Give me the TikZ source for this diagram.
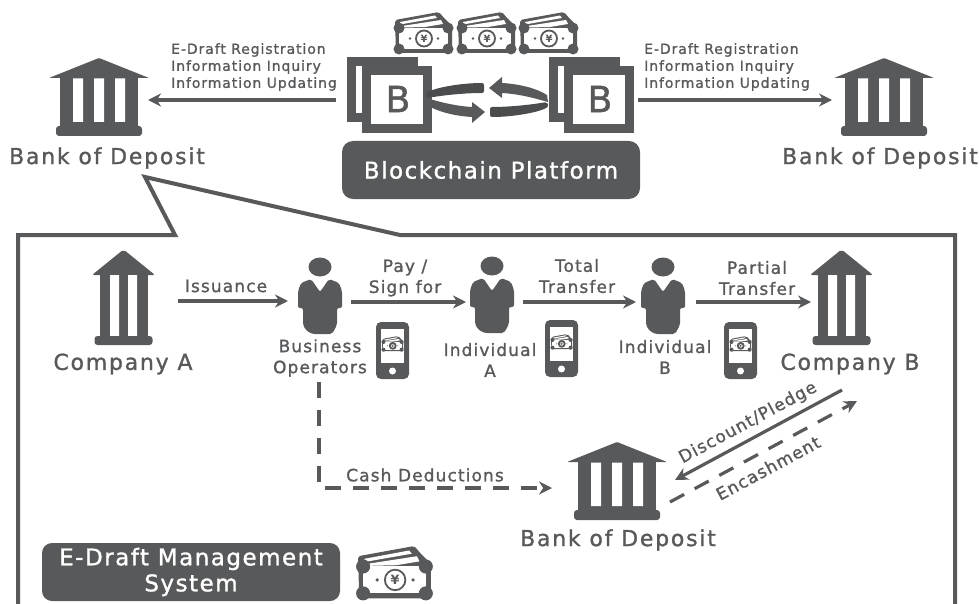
\documentclass[tikz,border=0pt]{standalone}
\usepackage{fontspec}
\setmainfont{DejaVu Sans}
\newfontfamily\wide[FakeBold=1.2,LetterSpace=6.5]{DejaVu Sans}
\newfontfamily\wider[FakeBold=1.2,LetterSpace=8]{DejaVu Sans}
\usetikzlibrary{arrows.meta}
\definecolor{dk}{HTML}{58595B}
\tikzset{
 x=1pt,y=-1pt,
 every node/.style={text=dk,inner sep=0pt,align=center},
 lbl/.style={font=\wide\fontsize{14}{17}\selectfont,align=left},
 mid/.style={font=\wide\fontsize{17}{21}\selectfont},
 big/.style={font=\wider\fontsize{22}{26}\selectfont},
 arr/.style={draw=dk,line width=3.2pt,-{Stealth[length=13pt,width=13pt]}},
 dasharr/.style={arr,dash pattern=on 16pt off 12pt},
 whitetxt/.style={text=white,font=\wide\fontsize{23}{26}\selectfont},
 bank/.pic={
  \fill[dk,rounded corners=1pt] (0,0)--(-50,20)--(50,20)--cycle;
  \fill[dk] (-39,20) rectangle (39,72);
  \fill[white] (-26,20.5) rectangle (-16,64) (-5,20.5) rectangle (5,64) (16,20.5) rectangle (26,64);
  \fill[dk,rounded corners=3pt] (-43,68) rectangle (43,78);
 },
 bankii/.pic={
  \fill[dk,rounded corners=2pt] (0,-0.5)--(-31.5,25)--(31.5,25)--cycle;
  \fill[dk] (-24,24) rectangle (24,88);
  \fill[white] (-13.5,25) rectangle (-4.5,86) (4.5,25) rectangle (13.5,86);
  \fill[dk,rounded corners=3pt] (-29,86) rectangle (29,95);
 },
 person/.pic={
  \fill[dk] (0,0) ellipse (11.5 and 9.5);
  \fill[dk,rounded corners=2pt] (0,25)--(-9,12)--(-19,16)--(-22,24)--(-22,41)--(-17,41)--(-17,58)
    to[rounded corners=7pt] (-12,67)--(12,67)--(17,58)--(17,41)--(22,41)--(22,24)--(19,16)--(9,12)--cycle;
 },
 money/.pic={
  \fill[dk,rounded corners=2pt] (0,8)--(44,0)--(49,6)--(57,14)--(57,41)--(1,41)--cycle;
  \fill[white] (5,10)--(40,3.5)--(42,6)--(5,12.5)--cycle (7,14)--(46,8)--(48,12)--(30,15)--(8,15.5)--cycle;
  \fill[white] (4,16) rectangle (53,37);
  \fill[dk] (4,16) circle (5.5) (53,16) circle (5.5) (4,37) circle (5.5) (53,37) circle (5.5);
  \draw[dk,line width=1.8pt,fill=white] (29,26.5) circle (8);
  \fill[dk] (15,26.5) circle (1.4) (43,26.5) circle (1.4);
  \node[transform shape,font=\fontsize{10}{10}\selectfont\bfseries] at (29,26.5) {¥};
 },
 phone/.pic={
  \fill[dk,rounded corners=5pt] (0,0) rectangle (33,57);
  \fill[white] (5,7) rectangle (28,41);
  \fill[white] (16.5,49) circle (3.5);
  \pic[scale=0.37] at (6,14) {money};
 },
 bbox/.pic={
  \draw[dk,line width=9pt,fill=white,line join=miter] (4.5,4.5) rectangle (66.5,60.5);
  \draw[dk,line width=9pt,fill=white,line join=miter] (19,14) rectangle (80.5,71.5);
  \node[font=\fontsize{36}{36}\selectfont\wide] at (51,42) {B};
 },
 swoop/.pic={
  \fill[dk!85!black,rounded corners=2pt] (425,94) .. controls (433,88) and (460,83) .. (484,83) -- (484,93) .. controls (465,93) and (445,95) .. (427,98) -- cycle;
  \fill[dk] (426,98) .. controls (440,102) and (455,106) .. (472,107) -- (472,102) -- (485,112) -- (472,123) -- (472,117) .. controls (455,116) and (438,112) .. (427,105) -- cycle;
 }
}
\begin{document}
\begin{tikzpicture}
\useasboundingbox (0,0) rectangle (979,604);
% callout
\draw[dk,line width=4pt,line join=miter] (18,604)--(18,235)--(175,235)--(145,177)--(400,235)--(955,235)--(955,604);
% top row
\pic at (99,58) {bank};
\pic at (884,58) {bank};
\node[big] (bankL) at (107,158) {Bank of Deposit};
\node[big] (bankR) at (880,158) {Bank of Deposit};
\pic at (395,12) {money};
\pic at (458,12) {money};
\pic at (520,12) {money};
\pic at (347,57) {bbox};
\pic at (549,57) {bbox};
\pic {swoop};
\pic[rotate around={180:(487,100)}] {swoop};
\node[fill=dk,rounded corners=11pt,minimum width=298pt,minimum height=58pt,whitetxt] (plat) at (491,170) {Blockchain Platform};
\coordinate (tl0) at (336,100); \coordinate (tl1) at (148,100);
\coordinate (tr0) at (638,100); \coordinate (tr1) at (832,100);
\draw[arr] (tl0)--(tl1);
\draw[arr] (tr0)--(tr1);
\node[lbl,anchor=west] (infoL) at (171,67) {E-Draft Registration\\Information Inquiry\\Information Updating};
\node[lbl,anchor=west] (infoR) at (644,67) {E-Draft Registration\\Information Inquiry\\Information Updating};
% middle row
\pic at (123.5,250) {bankii};
\pic at (841.5,250) {bankii};
\pic at (320,267) {person};
\pic at (492,266) {person};
\pic at (663,267) {person};
\pic at (376,322) {phone};
\pic at (545,320) {phone};
\pic at (724,322) {phone};
\node[big] (coA) at (123,364) {Company A};
\node[big] (coB) at (850,364) {Company B};
\node[mid] (biz) at (320,358) {Business\\Operators};
\node[mid] (inA) at (490,360) {Individual\\A};
\node[mid] (inB) at (665,357) {Individual\\B};
\coordinate (a0) at (178,301); \coordinate (a1) at (288,301);
\coordinate (b0) at (351,302); \coordinate (b1) at (466,302);
\coordinate (c0) at (523,302); \coordinate (c1) at (636,302);
\coordinate (d0) at (696,302); \coordinate (d1) at (811,302);
\draw[arr] (a0)--(a1);
\draw[arr] (b0)--(b1);
\draw[arr] (c0)--(c1);
\draw[arr] (d0)--(d1);
\node[mid] (iss) at (226,286) {Issuance};
\node[mid] (pay) at (405,278) {Pay /\\Sign for};
\node[mid] (tot) at (577,276) {Total\\Transfer};
\node[mid] (par) at (757,278) {Partial\\Transfer};
% lower
\pic at (617,442) {bank};
\node[big] (bankB) at (618,540) {Bank of Deposit};
\coordinate (e0) at (319,382); \coordinate (e1) at (319,488); \coordinate (e2) at (552,488);
\draw[dasharr] (e0)--(e1)--(e2);
\node[mid] (cash) at (425,475) {Cash Deductions};
\coordinate (f0) at (842,390); \coordinate (f1) at (675,480);
\coordinate (g0) at (670,502); \coordinate (g1) at (857,401);
\draw[arr] (f0)--(f1);
\draw[dasharr] (g0)--(g1);
\node[mid,rotate=28.3] (disc) at (748,423) {Discount/Pledge};
\node[mid,rotate=28.3] (enc) at (768,468) {Encashment};
% legend
\node[fill=dk,rounded corners=10pt,minimum width=298pt,minimum height=58pt,whitetxt] (sys) at (191,572) {E-Draft Management\\System};
\pic[scale=1.28] at (358,546) {money};
\end{tikzpicture}
\end{document}
